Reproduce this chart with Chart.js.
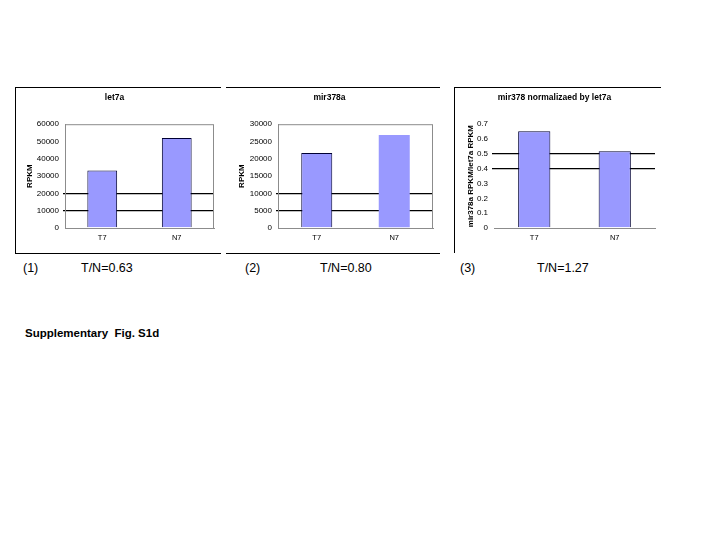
<!DOCTYPE html>
<html>
<head>
<meta charset="utf-8">
<script src="https://cdn.jsdelivr.net/npm/chart.js@4.4.0/dist/chart.umd.min.js"></script>
<style>
  body { margin: 0; width: 720px; height: 540px; background: #fff; position: relative; overflow: hidden;
         font-family: "Liberation Sans", Arial, sans-serif; }
  .box { position: absolute; }
  .txt { position: absolute; font-size: 12.5px; color: #000; white-space: nowrap; line-height: 1; }
  .hl { position: absolute; height: 0; border-top: 1.5px solid #000; }
  .vl { position: absolute; width: 0; border-left: 1.5px solid #000; }
</style>
</head>
<body>
<!-- frame lines round the three panels -->
<div class="hl" style="left:15px; top:87px; width:206px;"></div>
<div class="hl" style="left:15px; top:253px; width:206px;"></div>
<div class="vl" style="left:15px; top:87px; height:166px;"></div>
<div class="hl" style="left:226px; top:87px; width:214px;"></div>
<div class="hl" style="left:226px; top:253px; width:214px;"></div>
<div class="hl" style="left:454px; top:87px; width:207px;"></div>
<div class="vl" style="left:454px; top:87px; height:166px;"></div>

<div class="box" style="left:15px; top:87px; width:206px; height:166px;"><canvas id="c1"></canvas></div>
<div class="box" style="left:226px; top:87px; width:214px; height:166px;"><canvas id="c2"></canvas></div>
<div class="box" style="left:454px; top:87px; width:207px; height:166px;"><canvas id="c3"></canvas></div>

<div class="txt" style="left:23px; top:262px;">(1)</div>
<div class="txt" style="left:81px; top:262px;">T/N=0.63</div>
<div class="txt" style="left:245px; top:262px;">(2)</div>
<div class="txt" style="left:320px; top:262px;">T/N=0.80</div>
<div class="txt" style="left:460px; top:262px;">(3)</div>
<div class="txt" style="left:537px; top:262px;">T/N=1.27</div>
<div class="txt" style="left:25px; top:328px; font-weight:bold; font-size:11.5px;">Supplementary&nbsp; Fig. S1d</div>

<script>
const samples = ["T7", "N7"];

const let7aValues = [33300, 52000];
const mir378aValues = [21700, 26900];
const normValues = [0.653, 0.518];

const let7aTicks = [0, 10000, 20000, 30000, 40000, 50000, 60000];
const mir378aTicks = [0, 5000, 10000, 15000, 20000, 25000, 30000];
const normTicks = [0, 0.1, 0.2, 0.3, 0.4, 0.5, 0.6, 0.7];

// the dark lines that run across each plot
const let7aLines = [10000, 20000];
const mir378aLines = [5000, 10000];
const normLines = [0.4, 0.5];

const FONT = "'Liberation Sans', Arial, sans-serif";

// grey frame round the plot area
const plotFrame = {
  id: 'plotFrame',
  afterDraw(chart, args, opts) {
    if (!opts.show) return;
    const { ctx, chartArea: a } = chart;
    ctx.save();
    ctx.strokeStyle = '#8c8c8c';
    ctx.lineWidth = 1;
    ctx.strokeRect(a.left + 0.5, a.top + 0.5, a.right - a.left - 1, a.bottom - a.top);
    ctx.restore();
  }
};

function makeChart(id, opts) {
  const ctx = document.getElementById(id).getContext('2d');
  return new Chart(ctx, {
    type: 'bar',
    data: {
      labels: samples,
      datasets: [{
        data: opts.values,
        backgroundColor: '#9999ff',
        borderColor: '#000033',
        borderWidth: opts.borders,
        borderSkipped: 'bottom',
        barPercentage: 0.4,
        categoryPercentage: 1.0
      }]
    },
    options: {
      responsive: true,
      maintainAspectRatio: false,
      animation: false,
      layout: { padding: { top: 0, right: opts.right, bottom: 0, left: 0 } },
      plugins: {
        legend: { display: false },
        tooltip: { enabled: false },
        title: {
          display: true,
          text: opts.title,
          color: '#000',
          font: { family: FONT, size: 8.5, weight: 'bold' },
          padding: { top: 6, bottom: opts.titleGap }
        },
        plotFrame: { show: opts.frame }
      },
      scales: {
        x: {
          grid: { display: false, drawTicks: false },
          border: { display: true, color: '#8c8c8c' },
          ticks: { color: '#000', font: { family: FONT, size: 7.5 }, padding: 5 },
          afterFit: s => { s.height = 25; }
        },
        y: {
          min: 0,
          max: opts.ticks[opts.ticks.length - 1],
          afterBuildTicks: s => { s.ticks = opts.ticks.map(v => ({ value: v })); },
          grid: {
            drawTicks: true,
            tickLength: 2,
            color: c => opts.lines.includes(c.tick.value) ? '#000' : 'rgba(0,0,0,0)',
            lineWidth: 1.3
          },
          border: { display: opts.frame, color: '#8c8c8c' },
          ticks: {
            color: '#000',
            font: { family: FONT, size: 8 },
            padding: 4,
            callback: v => String(v)
          },
          title: {
            display: true,
            text: opts.yTitle,
            color: '#000',
            font: { family: FONT, size: 8, weight: 'bold' },
            padding: { top: opts.yTitleShift, bottom: 2 }
          },
          afterFit: s => { s.width = opts.yWidth; }
        }
      }
    },
    plugins: [plotFrame]
  });
}

makeChart('c1', {
  title: 'let7a', values: let7aValues, ticks: let7aTicks, lines: let7aLines,
  yTitle: 'RPKM', yWidth: 50, right: 7, titleGap: 21, frame: true, borders: [1, 1], yTitleShift: 10
});
makeChart('c2', {
  title: 'mir378a', values: mir378aValues, ticks: mir378aTicks, lines: mir378aLines,
  yTitle: 'RPKM', yWidth: 52, right: 7, titleGap: 21, frame: true, borders: [1, 0], yTitleShift: 11
});
makeChart('c3', {
  title: 'mir378 normalizaed by let7a', values: normValues, ticks: normTicks, lines: normLines,
  yTitle: 'mir378a RPKM/let7a RPKM', yWidth: 40, right: 6, titleGap: 21, frame: false, borders: [1, 1], yTitleShift: 12
});
</script>
</body>
</html>
